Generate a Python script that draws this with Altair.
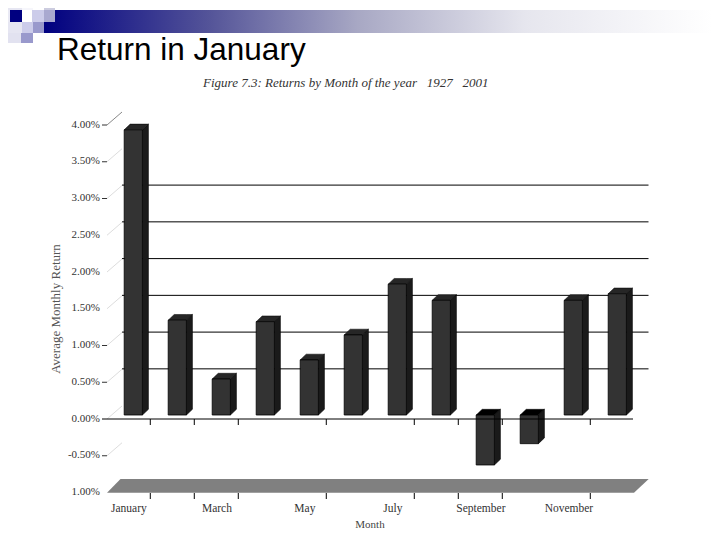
import altair as alt
import pandas as pd

MONTHS = ["January","February","March","April","May","June","July","August","September","October","November","December"]
RETURNS = [3.88,1.29,0.49,1.27,0.75,1.09,1.78,1.56,-0.68,-0.39,1.56,1.65]
LABEL_MONTHS = ["January","March","May","July","September","November"]
AXIS_LEVELS = [4.0,3.5,3.0,2.5,2.0,1.5,1.0,0.5,0.0,-0.5,-1.0]
AXIS_TEXT = ["4.00%","3.50%","3.00%","2.50%","2.00%","1.50%","1.00%","0.50%","0.00%","-0.50%","1.00%"]
TICK_LEVELS = [4.0,3.5,3.0,1.0,0.5,-0.5]
GRID_LEVELS = [3.0,2.5,2.0,1.5,1.0,0.5]
TICK_MONTHS = [0,1,2,4,6,7,8,10]

W, H = 704, 524
PX_PER_PCT = 73.5
PITCH = 44.0
# pixel conversion helpers: image pixel -> data units of the two scales
def X(px): return (px - 133.3) / PITCH
def Y(py): return (415 - py) / PX_PER_PCT
xs = alt.Scale(domain=[X(8), X(8 + W)], nice=False, zero=False)
ys = alt.Scale(domain=[Y(8 + H), Y(8)], nice=False, zero=False)
xe = lambda f="x": alt.X(f"{f}:Q", scale=xs, axis=None)
ye = lambda f="y": alt.Y(f"{f}:Q", scale=ys, axis=None)

DX = 6 / PITCH
DY = 5.7 / PX_PER_PCT
HALF = 9.1 / PITCH
BACK = 9.4 / PX_PER_PCT
LABEL_SHIFT = 3.5 / PX_PER_PCT

# Header band and squares
squares = pd.DataFrame([
    (0,10,0,10,"#e6e6f2"),(0,10,10,22,"#e9e9f4"),(10,22,0,10,"#e6e6f2"),(22,33,0,10,"#f6f6fb"),
    (44,55,0,10,"#ccccdf"),
    (0,10,22,33,"#e6e6f2"),(10,22,10,22,"#000080"),(32,44,10,22,"#ccccea"),(44,55,10,22,"#a9a9d0"),
    (10,22,22,33,"#e6e6f2"),(22,33,22,33,"#ccccea"),(33,44,22,33,"#9999cc"),
    (0,21,33,43,"#e2e2f0"),(21,33,33,43,"#9999cc"),
], columns=["x0","x1","y0","y1","c"])
squares = squares.assign(x=squares.x0.map(X), x2=squares.x1.map(X), y=squares.y0.map(Y), y2=squares.y1.map(Y))
sq = alt.Chart(squares).mark_rect().encode(x=xe(), x2="x2:Q", y=ye(), y2="y2:Q", color=alt.Color("c:N", scale=None))

grad = alt.LinearGradient(gradient="linear", x1=0, x2=1, y1=0, y2=0, stops=[
    alt.GradientStop(offset=0, color="#000080"),
    alt.GradientStop(offset=0.25, color="#555599"),
    alt.GradientStop(offset=0.47, color="#a8a8c4"),
    alt.GradientStop(offset=0.72, color="#e6e6ee"),
    alt.GradientStop(offset=1, color="#ffffff"),
])
band = alt.Chart(pd.DataFrame({"x":[X(44)],"x2":[X(712)],"y":[Y(10)],"y2":[Y(33)]})).mark_rect(color=grad).encode(
    x=xe(), x2="x2:Q", y=ye(), y2="y2:Q")

def text(df, **kw):
    return alt.Chart(df).mark_text(**kw).encode(x=xe(), y=ye(), text="t:N")

title = text(pd.DataFrame({"x":[X(57)],"y":[Y(60)],"t":["Return in January"]}),
             font="Liberation Sans", fontSize=31.5, align="left", baseline="alphabetic", color="#000000")
fig = text(pd.DataFrame({"x":[X(203)],"y":[Y(87)],"t":["Figure 7.3: Returns by Month of the year \u00a0 1927 \u00a0 2001"]}),
           font="Liberation Serif", fontStyle="italic", fontSize=13, align="left", baseline="alphabetic", color="#333333")

# Back wall grid
grid = alt.Chart(pd.DataFrame({"l":GRID_LEVELS}).assign(x=X(122), x2=X(648.5), y=lambda d: d.l + BACK)).mark_rule(
    color="#000000", strokeWidth=1).encode(x=xe(), x2="x2:Q", y=ye())

# Diagonals from the axis to the back wall
diag = pd.DataFrame([dict(l=l, x=X(a), y=l - 4/PX_PER_PCT + d) for l in AXIS_LEVELS[:-1]
                     for a, d in ((107, 0), (122, 13/PX_PER_PCT))])
diag["dark"] = diag.l == 4.0
diags = alt.Chart(diag).mark_line(strokeWidth=1).encode(x=xe(), y=ye(), detail="l:N",
    color=alt.condition("datum.dark", alt.value("#888888"), alt.value("#dddddd")))

# Floor
floor = pd.DataFrame({"x":[X(107),X(120.5),X(634),X(648.7)],
                      "y":[Y(492.7),Y(479),Y(479),Y(479)],
                      "y2":[Y(492.7),Y(492.7),Y(492.7),Y(479)]})
floor_m = alt.Chart(floor).mark_area(color="#808080", opacity=1).encode(x=xe(), y=ye(), y2="y2:Q")

# Bars
rows = pd.DataFrame({"m":MONTHS,"v":RETURNS,"i":range(12)})
rows["hi"] = rows.v.clip(lower=0)
rows["lo"] = rows.v.clip(upper=0)
front = rows.assign(x=rows.i-HALF, x2=rows.i+HALF)
front_m = alt.Chart(front).mark_rect(color="#333333", stroke="#000000", strokeWidth=0.8).encode(
    x=xe(), x2="x2:Q", y=alt.Y("hi:Q", scale=ys, axis=None), y2="lo:Q")
side = pd.concat([
    rows.assign(x=rows.i+HALF, y=rows.hi, y2=rows.lo),
    rows.assign(x=rows.i+HALF+DX, y=rows.hi+DY, y2=rows.lo+DY)])
side_m = alt.Chart(side).mark_area(color="#1a1a1a", stroke="#000000", strokeWidth=0.6).encode(
    x=xe(), y=ye(), y2="y2:Q", detail="m:N")
top = pd.concat([
    rows.assign(x=rows.i-HALF, y=rows.hi, y2=rows.hi),
    rows.assign(x=rows.i-HALF+DX, y=rows.hi+DY, y2=rows.hi),
    rows.assign(x=rows.i+HALF, y=rows.hi+DY, y2=rows.hi),
    rows.assign(x=rows.i+HALF+DX, y=rows.hi+DY, y2=rows.hi+DY)])
top["neg"] = top.v < 0
top_m = alt.Chart(top).mark_area(stroke="#000000", strokeWidth=0.5).encode(
    x=xe(), y=ye(), y2="y2:Q", detail="m:N",
    color=alt.condition("datum.neg", alt.value("#000000"), alt.value("#262626")))

# Axis lines and ticks
zero = alt.Chart(pd.DataFrame({"x":[X(102)],"x2":[X(633)],"y":[Y(419)]})).mark_rule(color="#000000", strokeWidth=1).encode(
    x=xe(), x2="x2:Q", y=ye())
ticks = pd.concat([pd.DataFrame({"m":TICK_MONTHS}).assign(x=lambda d: d.m + 0.386, y=Y(a), y2=Y(a+6)) for a in (419, 493)])
tick_m = alt.Chart(ticks).mark_rule(color="#000000", strokeWidth=1).encode(x=xe(), y=ye(), y2="y2:Q")
lt = pd.DataFrame({"l":TICK_LEVELS}).assign(x=X(102), x2=X(107), y=lambda d: d.l - 4/PX_PER_PCT)
ltick = alt.Chart(lt).mark_rule(color="#333333", strokeWidth=1).encode(x=xe(), x2="x2:Q", y=ye())

lab = pd.DataFrame({"l":AXIS_LEVELS,"t":AXIS_TEXT}).assign(x=X(100), y=lambda d: d.l - 3.5/PX_PER_PCT)
labs = text(lab, font="Liberation Serif", fontSize=11, align="right", baseline="middle", color="#333333")
mlab = pd.DataFrame({"t":LABEL_MONTHS,"i":[MONTHS.index(m) for m in LABEL_MONTHS]}).assign(x=lambda d: d.i - 0.1, y=Y(509))
mlabs = text(mlab, font="Liberation Serif", fontSize=11.5, align="center", baseline="middle", color="#333333")
xtitle = text(pd.DataFrame({"x":[X(370)],"y":[Y(525)],"t":["Month"]}),
              font="Liberation Serif", fontSize=11, align="center", baseline="middle", color="#444444")
ytitle = text(pd.DataFrame({"x":[X(56)],"y":[Y(309)],"t":["Average Monthly Return"]}),
              font="Liberation Serif", fontSize=13, angle=270, align="center", baseline="middle", color="#555555")

chart = alt.layer(band, sq, title, fig, floor_m, diags, grid, side_m, top_m, front_m, zero, tick_m, ltick,
                  labs, mlabs, xtitle, ytitle).properties(
    width=W, height=H, padding=0, autosize=alt.AutoSizeParams(type="none"), background="#ffffff"
).configure_view(stroke=None)

chart.save("out.html", embed_options={"renderer": "svg", "actions": False})
